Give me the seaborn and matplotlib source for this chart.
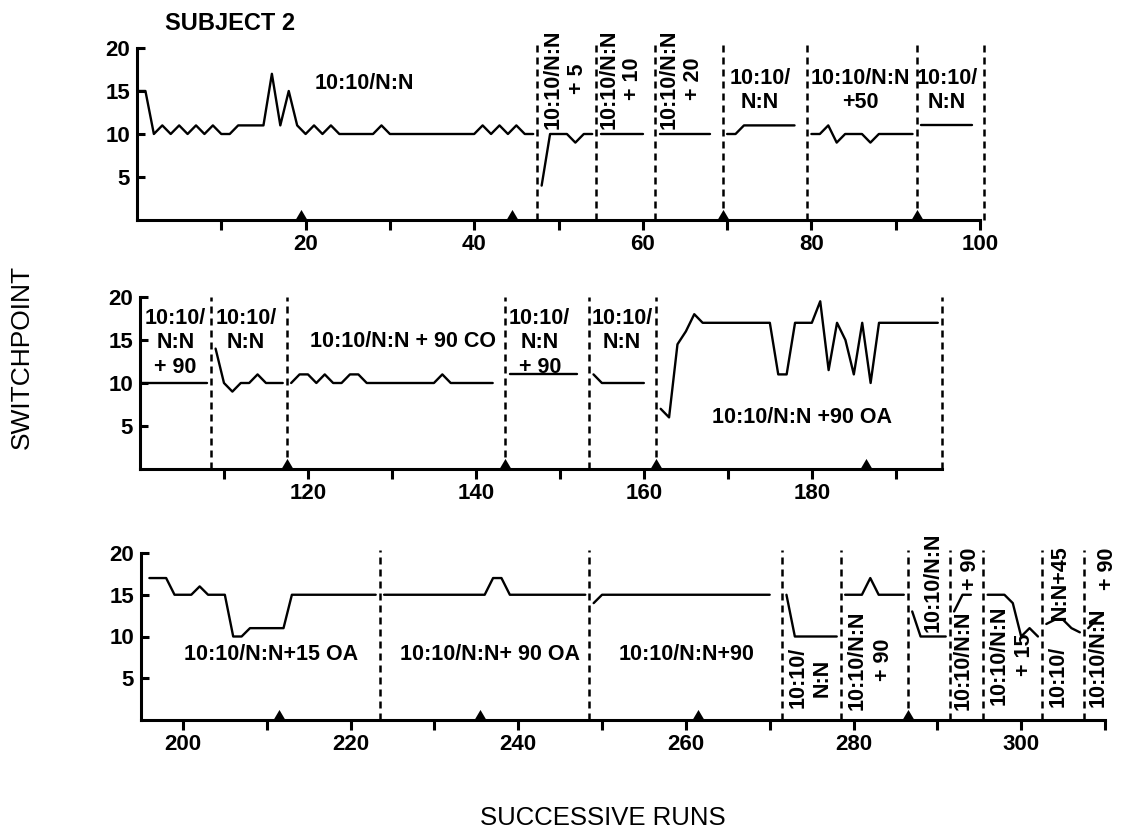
import numpy as np
import pandas as pd
import matplotlib
matplotlib.use('Agg')
import matplotlib.pyplot as plt
import seaborn as sns

# ---------------- DATA ----------------
# top panel (runs 0-100)
top_runs_a = list(range(0, 48))
top_vals_a = [15, 15, 10, 11, 10, 11, 10, 11, 10, 11,
              10, 10, 11, 11, 11, 11, 17, 11, 15, 11,
              10, 11, 10, 11, 10, 10, 10, 10, 10, 11,
              10, 10, 10, 10, 10, 10, 10, 10, 10, 10, 10,
              11, 10, 11, 10, 11, 10, 10]
top_runs_b = list(range(48, 55))
top_vals_b = [4, 10, 10, 10, 9, 10, 10]
top_runs_c = list(range(55, 61))
top_vals_c = [10, 10, 10, 10, 10, 10]
top_runs_d = list(range(62, 69))
top_vals_d = [10, 10, 10, 10, 10, 10, 10]
top_runs_e = list(range(70, 79))
top_vals_e = [10, 10, 11, 11, 11, 11, 11, 11, 11]
top_runs_f = list(range(80, 93))
top_vals_f = [10, 10, 11, 9, 10, 10, 10, 9, 10, 10, 10, 10, 10]
top_runs_g = list(range(93, 100))
top_vals_g = [11, 11, 11, 11, 11, 11, 11]
top_bounds = [47.5, 54.5, 61.5, 69.5, 79.5, 92.5, 100.5]
top_triangles = [19.5, 44.5, 69.5, 92.5]
top_ticks = [10, 20, 30, 40, 50, 60, 70, 80, 90, 100]
top_ticklabels = ['', '20', '', '40', '', '60', '', '80', '', '100']

# middle panel (runs 100-195)
mid_runs_a = list(range(100, 109))
mid_vals_a = [10, 10, 10, 10, 10, 10, 10, 10, 10]
mid_runs_b = list(range(109, 118))
mid_vals_b = [14, 10, 9, 10, 10, 11, 10, 10, 10]
mid_runs_c = list(range(118, 143))
mid_vals_c = [10, 11, 11, 10, 11, 10, 10, 11, 11, 10,
              10, 10, 10, 10, 10, 10, 10, 10, 11,
              10, 10, 10, 10, 10, 10]
mid_runs_d = list(range(144, 153))
mid_vals_d = [11, 11, 11, 11, 11, 11, 11, 11, 11]
mid_runs_e = list(range(154, 161))
mid_vals_e = [11, 10, 10, 10, 10, 10, 10]
mid_runs_f = list(range(162, 196))
mid_vals_f = [7, 6, 14.5, 16, 18,
              17, 17, 17, 17, 17, 17, 17, 17, 17,
              11, 11, 17, 17, 17, 19.5, 11.5, 17, 15, 11, 17, 10,
              17, 17, 17, 17, 17, 17, 17, 17]
mid_bounds = [108.5, 117.5, 143.5, 153.5, 161.5, 195.5]
mid_triangles = [117.5, 143.5, 161.5, 186.5]
mid_ticks = [110, 120, 130, 140, 150, 160, 170, 180, 190]
mid_ticklabels = ['', '120', '', '140', '', '160', '', '180', '']

# bottom panel (runs 195-310)
bot_runs_a = list(range(196, 224))
bot_vals_a = [17, 17, 17, 15, 15, 15, 16, 15, 15, 15,
              10, 10, 11, 11, 11, 11, 11,
              15, 15, 15, 15, 15, 15, 15, 15, 15, 15, 15]
bot_runs_b = list(range(224, 249))
bot_vals_b = [15, 15, 15, 15, 15, 15, 15, 15, 15, 15, 15, 15, 15,
              17, 17,
              15, 15, 15, 15, 15, 15, 15, 15, 15, 15]
bot_runs_c = list(range(249, 271))
bot_vals_c = [14, 15, 15, 15, 15, 15, 15, 15, 15, 15, 15,
              15, 15, 15, 15, 15, 15, 15, 15, 15, 15, 15]
bot_runs_d = list(range(272, 279))
bot_vals_d = [15, 10, 10, 10, 10, 10, 10]
bot_runs_e = list(range(279, 287))
bot_vals_e = [15, 15, 15, 17, 15, 15, 15, 15]
bot_runs_f = list(range(287, 292))
bot_vals_f = [13, 10, 10, 10, 10]
bot_runs_g = list(range(292, 295))
bot_vals_g = [13, 15, 15]
bot_runs_h = list(range(296, 303))
bot_vals_h = [15, 15, 15, 14, 10, 11, 10]
bot_runs_i = list(range(303, 308))
bot_vals_i = [11.5, 12, 12, 11, 10.5]
bot_runs_j = [308, 309]
bot_vals_j = [11, 12]
bot_bounds = [223.5, 248.5, 271.5, 278.5, 286.5, 291.5, 295.5, 302.5, 307.5]
bot_triangles = [211.5, 235.5, 261.5, 286.5]
bot_ticks = [200, 210, 220, 230, 240, 250, 260, 270, 280, 290, 300, 310]
bot_ticklabels = ['200', '', '220', '', '240', '', '260', '', '280', '', '300', '']

y_ticks = [5, 10, 15, 20]

# ---------------- STYLE ----------------
sns.set_theme(style='ticks')
plt.rcParams['font.family'] = ['Liberation Sans', 'DejaVu Sans']
plt.rcParams['font.weight'] = 'bold'
plt.rcParams['axes.linewidth'] = 2.2

W, H = 1128, 835
fig = plt.figure(figsize=(W / 100, H / 100), dpi=100)
fig.patch.set_facecolor('white')

TRI = [(-1, 0), (1, 0), (0, 1.7), (-1, 0)]
FS = 15.5
TFS = 16


def px_axes(x0, x1, y_top, y_bot):
    return fig.add_axes([x0 / W, 1 - y_bot / H, (x1 - x0) / W, (y_bot - y_top) / H])


def draw_panel(ax, segments, bounds, tris, xlim, ticks, ticklabels, vtop):
    rows = []
    for i, (runs, vals) in enumerate(segments):
        for r, v in zip(runs, vals):
            rows.append((i, r, v))
    df = pd.DataFrame(rows, columns=['seg', 'run', 'value'])
    sns.lineplot(data=df, x='run', y='value', units='seg', estimator=None,
                 color='black', lw=1.7, ax=ax, legend=False)
    ax.vlines(bounds, 0, vtop, colors='black', linestyles=(0, (2.8, 2.0)),
              lw=1.8, clip_on=False)
    sns.scatterplot(x=tris, y=np.zeros(len(tris)), marker=TRI, s=230,
                    color='black', edgecolor='black', linewidth=0, ax=ax,
                    clip_on=False, zorder=5, legend=False)
    ax.set_xlim(*xlim)
    ax.set_ylim(0, 20)
    ax.set_xticks(ticks, labels=ticklabels)
    ax.set_yticks(y_ticks, labels=[str(t) for t in y_ticks])
    ax.tick_params(axis='x', direction='out', length=7, width=2.2, pad=3,
                   labelsize=TFS, colors='black')
    ax.tick_params(axis='y', direction='in', length=6, width=2.2, pad=5,
                   labelsize=TFS, colors='black')
    for lab in ax.get_xticklabels() + ax.get_yticklabels():
        lab.set_fontweight('bold')
    sns.despine(ax=ax)
    ax.spines['left'].set_linewidth(2.2)
    ax.spines['bottom'].set_linewidth(2.2)
    ax.spines['left'].set_color('black')
    ax.spines['bottom'].set_color('black')
    ax.set_xlabel('')
    ax.set_ylabel('')
    ax.set_facecolor('white')


def label(ax, x, y, s, ha='center', va='center', rot=0, ls=1.2, fs=FS):
    ax.text(x, y, s, ha=ha, va=va, rotation=rot, fontsize=fs, fontweight='bold',
            linespacing=ls, multialignment='center', color='black', zorder=6)


# ---------------- TOP ----------------
ax1 = px_axes(137, 980, 48, 220)
draw_panel(ax1,
           [(top_runs_a, top_vals_a), (top_runs_b, top_vals_b), (top_runs_c, top_vals_c),
            (top_runs_d, top_vals_d), (top_runs_e, top_vals_e), (top_runs_f, top_vals_f),
            (top_runs_g, top_vals_g)],
           top_bounds, top_triangles, (0, 100), top_ticks, top_ticklabels, 20.3)
label(ax1, 3.3, 22.8, 'SUBJECT 2', ha='left', fs=17)
label(ax1, 27, 15.9, '10:10/N:N')
label(ax1, 50.8, 10.6, '10:10/N:N\n+ 5', va='bottom', rot=90)
label(ax1, 57.4, 10.6, '10:10/N:N\n+ 10', va='bottom', rot=90)
label(ax1, 64.6, 10.6, '10:10/N:N\n+ 20', va='bottom', rot=90)
label(ax1, 73.9, 15.1, '10:10/\nN:N')
label(ax1, 85.8, 15.1, '10:10/N:N\n+50')
label(ax1, 96.1, 15.1, '10:10/\nN:N')

# ---------------- MIDDLE ----------------
ax2 = px_axes(140, 942, 297, 469)
draw_panel(ax2,
           [(mid_runs_a, mid_vals_a), (mid_runs_b, mid_vals_b), (mid_runs_c, mid_vals_c),
            (mid_runs_d, mid_vals_d), (mid_runs_e, mid_vals_e), (mid_runs_f, mid_vals_f)],
           mid_bounds, mid_triangles, (100, 195.5), mid_ticks, mid_ticklabels, 20.0)
label(ax2, 104.2, 18.7, '10:10/\nN:N\n+ 90', va='top')
label(ax2, 112.6, 18.7, '10:10/\nN:N', va='top')
label(ax2, 131.3, 14.8, '10:10/N:N + 90 CO')
label(ax2, 147.6, 18.7, '10:10/\nN:N\n+ 90', va='top')
label(ax2, 157.4, 18.7, '10:10/\nN:N', va='top')
label(ax2, 178.8, 6.0, '10:10/N:N +90 OA')

# ---------------- BOTTOM ----------------
ax3 = px_axes(141, 1105, 553, 720)
draw_panel(ax3,
           [(bot_runs_a, bot_vals_a), (bot_runs_b, bot_vals_b), (bot_runs_c, bot_vals_c),
            (bot_runs_d, bot_vals_d), (bot_runs_e, bot_vals_e), (bot_runs_f, bot_vals_f),
            (bot_runs_g, bot_vals_g), (bot_runs_h, bot_vals_h), (bot_runs_i, bot_vals_i),
            (bot_runs_j, bot_vals_j)],
           bot_bounds, bot_triangles, (195, 310), bot_ticks, bot_ticklabels, 20.4)
label(ax3, 210.5, 7.8, '10:10/N:N+15 OA')
label(ax3, 236.6, 7.8, '10:10/N:N+ 90 OA')
label(ax3, 260.1, 7.8, '10:10/N:N+90')
label(ax3, 274.8, 1.4, '10:10/\nN:N', va='bottom', rot=90)
label(ax3, 282.0, 1.2, '10:10/N:N\n+ 90', va='bottom', rot=90, ls=1.3)
label(ax3, 289.5, 10.5, '10:10/N:N', va='bottom', rot=90)
label(ax3, 293.1, 1.2, '10:10/N:N', va='bottom', rot=90)
label(ax3, 294.0, 15.6, '+ 90', va='bottom', rot=90)
label(ax3, 298.9, 1.8, '10:10/N:N\n+ 15', va='bottom', rot=90, ls=1.3)
label(ax3, 304.4, 1.6, '10:10/', va='bottom', rot=90)
label(ax3, 304.6, 12.0, 'N:N+45', va='bottom', rot=90)
label(ax3, 309.2, 1.6, '10:10/N:N', va='bottom', rot=90)
label(ax3, 310.3, 15.6, '+ 90', va='bottom', rot=90)

# ---------------- AXIS TITLES ----------------
fig.text(22 / W, 1 - 357 / H, 'SWITCHPOINT', rotation=90, ha='center', va='center',
         fontsize=19, fontweight='normal', color='black')
fig.text(603 / W, 1 - 818 / H, 'SUCCESSIVE RUNS', ha='center', va='center',
         fontsize=18.5, fontweight='normal', color='black')

fig.savefig('out.png', dpi=100, facecolor='white')
